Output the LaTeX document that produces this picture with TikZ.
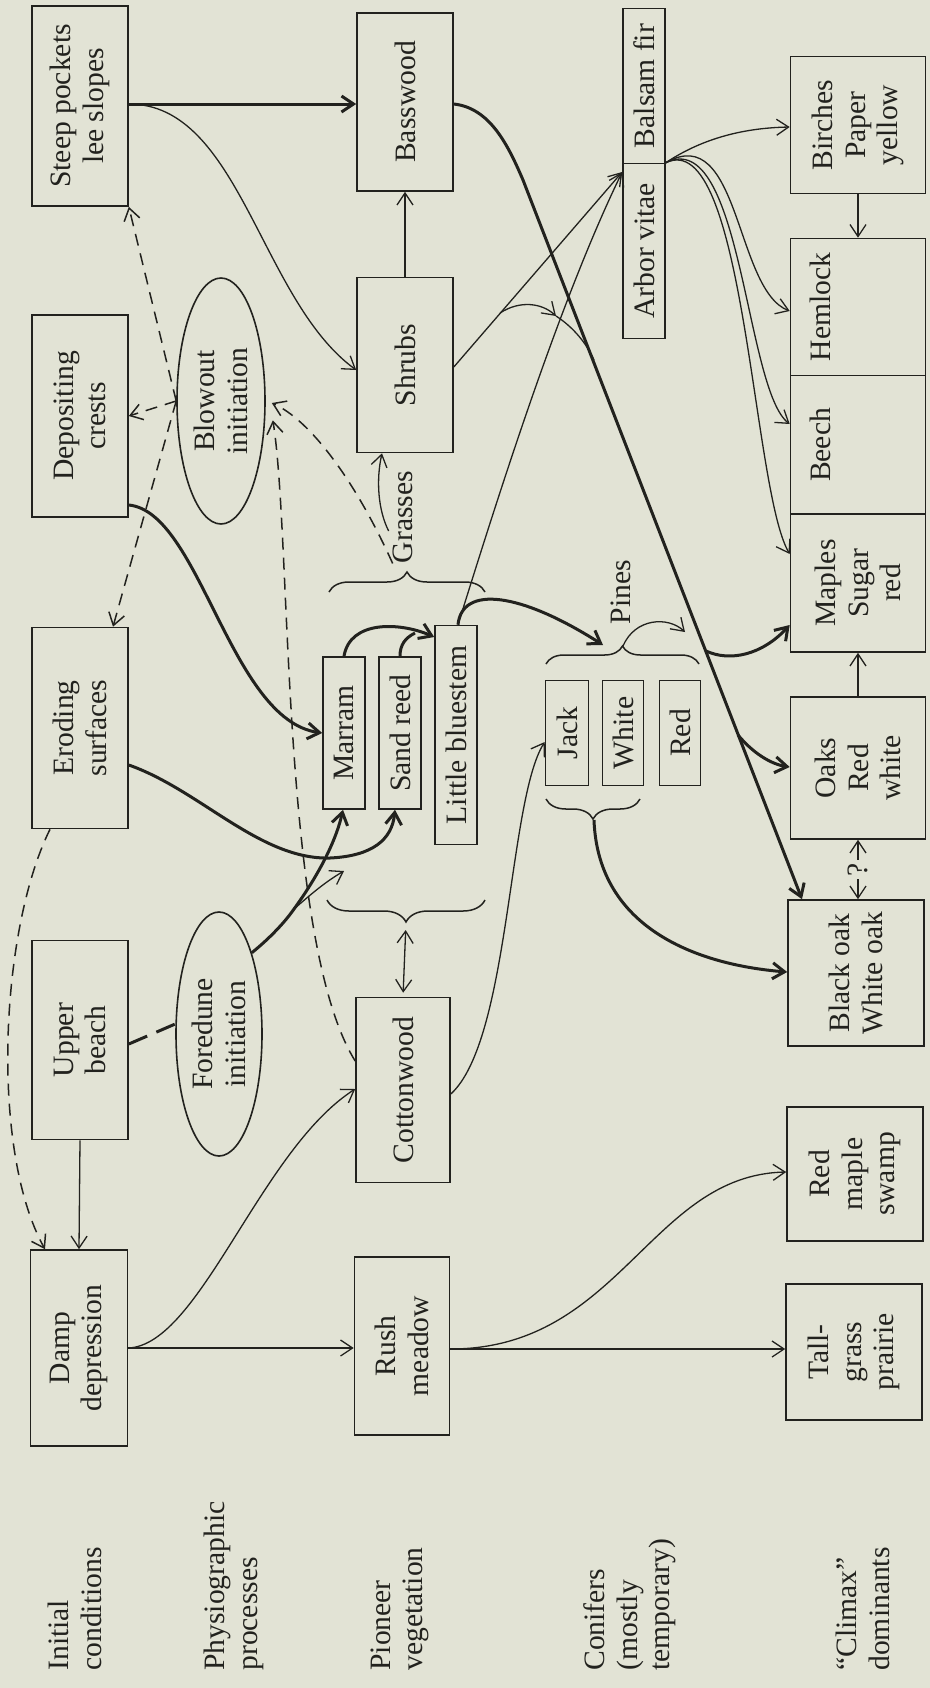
\documentclass[tikz,border=0pt]{standalone}
\usepackage{fontspec}
\setmainfont{Liberation Serif}
\usetikzlibrary{arrows.meta,calc,shapes.geometric,decorations.pathreplacing}
\definecolor{bgc}{RGB}{226,227,213}
\definecolor{ink}{RGB}{34,34,30}
\tikzset{
  every node/.style={text=ink, font=\fontsize{14.8}{16.3}\selectfont},
  bx/.style 2 args={draw=ink, line width=0.8pt, rotate=90, minimum width=#2*0.5pt, minimum height=#1*0.5pt, inner sep=0pt, align=center},
  el/.style 2 args={draw=ink, line width=0.8pt, ellipse, rotate=90, minimum width=#2*0.5pt, minimum height=#1*0.5pt, inner sep=0pt, align=center},
  rowlab/.style={rotate=90, anchor=west, align=left, inner sep=0pt},
  lbl/.style={rotate=90, inner sep=0pt},
  thn/.style={draw=ink, line width=0.65pt},
  thk/.style={draw=ink, line width=1.5pt},
  dsh/.style={draw=ink, line width=0.75pt, dash pattern=on 6pt off 4pt},
  arr/.style={-{Straight Barb[length=6pt,width=8pt]}},
  darr/.style={{Straight Barb[length=6pt,width=8pt]}-{Straight Barb[length=6pt,width=8pt]}},
  brc/.style={draw=ink, line width=0.75pt, decorate, decoration={brace, amplitude=#1}},
}
\begin{document}
\begin{tikzpicture}[x=0.5pt,y=-0.5pt]
\fill[bgc] (0,0) rectangle (930,1688);
\useasboundingbox (0,0) rectangle (930,1688);

% row labels
\node[rowlab] (lab1) at (75,1671) {Initial\\conditions};
\node[rowlab] (lab2) at (234,1671) {Physiographic\\processes};
\node[rowlab] (lab3) at (400,1671) {Pioneer\\vegetation};
\node[rowlab] (lab4) at (630,1671) {Conifers\\(mostly\\temporary)};
\node[rowlab] (lab5) at (863,1671) {``Climax''\\dominants};

% initial conditions
\node[bx={96}{200}] (steep) at (80,106) {Steep pockets\\lee slopes};
\node[bx={96}{202}] (depos) at (80,416) {Depositing\\crests};
\node[bx={96}{201}] (erod) at (80,728) {Eroding\\surfaces};
\node[bx={96}{199}] (upper) at (80,1040) {Upper\\beach};
\node[bx={97}{196}] (damp) at (79,1348) {Damp\\depression};

% physiographic processes
\node[el={88}{246}] (blow) at (221,401) {Blowout\\initiation};
\node[el={86}{244}] (fore) at (219,1034) {Foredune\\initiation};

% pioneer vegetation
\node[bx={96}{178}] (bass) at (405,102) {Basswood};
\node[bx={96}{175}] (shrubs) at (405,365) {Shrubs};
\node[bx={42}{152}] (marram) at (344,733) {Marram};
\node[bx={42}{152}] (sandreed) at (400,733) {Sand reed};
\node[bx={42}{219}] (blue) at (456,735) {Little bluestem};
\node[bx={94}{185}] (cotton) at (403,1090) {Cottonwood};
\node[bx={95}{178}] (rush) at (402,1346) {Rush\\meadow};

% conifers
\node[bx={43}{105}] (jack) at (567,733) {Jack};
\node[bx={41}{105}] (white) at (623,733) {White};
\node[bx={41}{105}] (redpine) at (680,733) {Red};
\node[bx={42}{155}] (balsam) at (644,86) {Balsam fir};
\node[bx={42}{175}] (arbor) at (644,251) {Arbor vitae};

% climax
\node[bx={135}{137}] (birches) at (858,125) {Birches\\Paper\\yellow};
\node[bx={135}{137}] (hemlock) at (858,307) {Hemlock\\\strut\\\strut};
\node[bx={135}{139}] (beech) at (858,445) {Beech\\\strut\\\strut};
\node[bx={135}{138}] (maples) at (858,583) {Maples\\Sugar\\red};
\node[bx={135}{142}] (oaks) at (858,768) {Oaks\\Red\\white};
\node[bx={136}{146}] (blackoak) at (856,973) {Black oak\\White oak};
\node[bx={136}{134}] (redmaple) at (855,1174) {Red\\maple\\swamp};
\node[bx={136}{136}] (tallgrass) at (854,1352) {Tall-\\grass\\prairie};

% braces and their labels
\draw[brc=10pt] (329,592) -- (485,592);
\coordinate (gtip) at (406,572);
\node[lbl] (grasses) at (403,517) {Grasses};
\draw[brc=11pt] (485,900) -- (327,900);
\coordinate (lbtip) at (406,922);
\draw[brc=9pt] (546,664) -- (699,664);
\coordinate (ptip) at (623,646);
\node[lbl] (pines) at (621,592) {Pines};
\draw[brc=10pt] (640,799) -- (546,799);
\coordinate (ctip) at (594,820);

% ---- connectors ----
% steep pockets
\draw[thk, arr] (steep.south |- 0,104) -- (bass.north |- 0,104);
\draw[thn, arr] (steep.south |- 0,104) .. controls (240,104) and (260,300) .. (shrubs.north |- 0,370);
% shrubs -> basswood
\draw[thn, arr] (shrubs.east) -- (bass.west);
% basswood -> black oak (with branches)
\coordinate (dA) at (523,180);
\draw[thk, arr] (bass.south |- 0,104) .. controls (490,108) and (508,145) .. (dA) -- (802,0 |- blackoak.east);
\coordinate (dM) at (706,651);
\coordinate (dO) at (738,735);
\draw[thk, arr] (dM) .. controls (730,662) and (762,655) .. (maples.north |- 0,625);
\draw[thk, arr] (dO) .. controls (752,752) and (770,764) .. (oaks.north |- 0,767);
% pines tip thin arrow
\draw[thn, arr] (ptip) .. controls (635,618) and (668,616) .. (685,632);
% little bluestem, shrubs -> arbor vitae
\draw[thn, arr] ($(blue.east)+(2,0)$) .. controls (500,490) and (560,300) .. (arbor.north |- 0,172);
\draw[thn, arr] (shrubs.south |- 0,367) -- (arbor.north |- 0,172);
\coordinate (sB) at (500,313);
\coordinate (sC) at (556,316);
\draw[thn, arr] (sB) .. controls (520,300) and (542,303) .. (sC);
\draw[thn] (sC) .. controls (570,325) and (585,340) .. (594,360);
% arbor vitae -> climax
\draw[thn, arr] (arbor.south east) .. controls (700,140) and (740,128) .. (birches.north |- 0,127);
\draw[thn, arr] (arbor.south east) .. controls (740,120) and (735,290) .. (hemlock.north |- 0,311);
\draw[thn, arr] (arbor.south east) .. controls (742,125) and (745,390) .. (beech.north |- 0,424);
\draw[thn, arr] (arbor.south east) .. controls (745,125) and (752,490) .. (maples.north |- 0,554);
\draw[thn, arr] (birches.west) -- (hemlock.east);
\draw[thn, arr] (oaks.east) -- (maples.west);
\draw[thn, darr] (oaks.west) -- node[lbl, fill=bgc, inner sep=1.5pt] (qm) {?} (oaks.west |- blackoak.east);
% grasses
\draw[thk, arr] (marram.east) .. controls (350,620) and (400,622) .. (blue.north |- 0,637);
\draw[thk] (sandreed.east) .. controls (400,645) and (405,638) .. (415,633);
\draw[thk, arr] ($(blue.east)+(2,0)$) .. controls (462,585) and (520,592) .. ($(ptip)+(-20,-1)$);
\draw[thn, arr] ($(grasses.north)+(-4,14)$) .. controls (378,510) and (376,480) .. (shrubs.west -| 382,0);
% physiographic
\draw[thk, arr] (depos.south |- 0,505) .. controls (200,512) and (230,720) .. (marram.north |- 0,733);
\draw[thk, arr] (erod.south |- 0,765) .. controls (200,790) and (260,860) .. (330,858) .. controls (372,856) and (392,840) .. (395,0 |- sandreed.west);
\coordinate (fJ) at (294,909);
\draw[thk, arr] (fore.-22) .. controls (270,938) and (285,922) .. (fJ) .. controls (315,880) and (335,845) .. (343,0 |- marram.west);
\draw[thn, arr] (fJ) .. controls (310,895) and (325,882) .. (344,871);
\draw[thk, dash pattern=on 10pt off 5pt] (upper.south |- 0,1044) -- (fore.north |- 0,1024);
\draw[thn, arr] (upper.west) -- (damp.east);
% dashed
\draw[dsh, arr] (blow.north) -- (steep.south west);
\draw[dsh, arr] (blow.north) -- (depos.south);
\draw[dsh, arr] (blow.north) -- (113,0 |- erod.east);
\draw[dsh, arr] (grasses.north west) .. controls (355,480) and (310,420) .. ($(blow.south)+(6,2)$);
\draw[dsh, arr] (cotton.north |- 0,1061) .. controls (280,940) and (292,540) .. ($(blow.-120)+(8,-6)$);
\draw[dsh, arr] (50,0 |- erod.west) .. controls (0,930) and (-10,1150) .. (45,0 |- damp.east);
% cottonwood
\draw[thn, darr, shorten <=4pt, shorten >=2pt] (lbtip) -- (cotton.east);
\draw[thn, arr] (cotton.south |- 0,1094) .. controls (510,1040) and (508,800) .. (jack.north |- 0,742);
\draw[thk, arr] (ctip) .. controls (598,930) and (700,965) .. (blackoak.north |- 0,972);
% damp depression
\draw[thn, arr] (damp.south |- 0,1348) .. controls (200,1345) and (260,1150) .. (cotton.north |- 0,1089);
\draw[thn, arr] (damp.south |- 0,1348) -- (rush.north |- 0,1348);
\draw[thn, arr] (rush.south |- 0,1349) -- (tallgrass.north |- 0,1349);
\draw[thn, arr] (rush.south |- 0,1349) .. controls (620,1349) and (650,1175) .. (redmaple.north |- 0,1172);
\end{tikzpicture}
\end{document}
